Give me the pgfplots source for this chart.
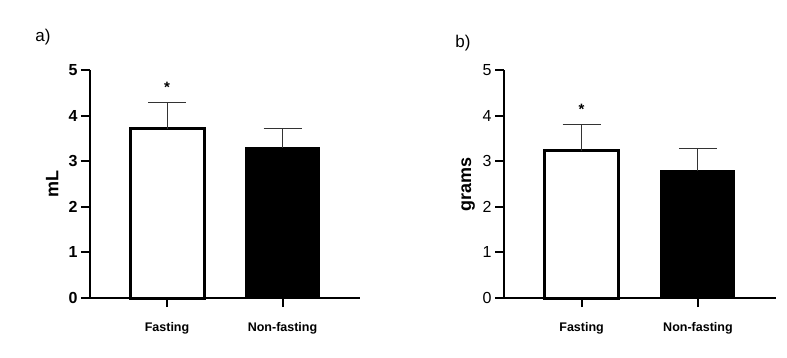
\documentclass[border=0pt]{standalone}
\usepackage{pgfplots}
\pgfplotsset{compat=1.18}
\usepackage{fontspec}
\setmainfont{Liberation Sans}
\begin{document}
\begin{tikzpicture}
\useasboundingbox (0pt,0pt) rectangle (787pt,357pt);
\pgfplotsset{
  myax/.style={
    scale only axis, width=270pt, height=228pt,
    xmin=-0.667, xmax=1.671, ymin=0, ymax=5,
    axis x line=bottom, axis y line=left,
    axis line style={line width=2pt, -},
    xtick={0,1}, xticklabels={Fasting,Non-fasting},
    ytick={0,1,2,3,4,5},
    tick align=outside, major tick length=9pt,
    tick style={line width=2pt, black},
    x tick label style={font=\bfseries\fontsize{12.5}{13}\selectfont, yshift=-12pt},
    /pgf/number format/assume math mode=true,
    ylabel style={font=\bfseries\fontsize{18}{18}\selectfont, anchor=center},
    clip=false,
    anchor=south west,
    ybar, bar shift=0pt, bar width=74pt,
    error bars/y dir=plus, error bars/y explicit,
    error bars/error bar style={line width=1pt, black!80},
    error bars/error mark options={line width=1pt, black!80, mark size=19pt, rotate=90},
  }
}
\begin{axis}[myax, at={(90pt,59pt)},
  y tick label style={font=\bfseries\fontsize{16}{16}\selectfont},
  ylabel={mL}, ylabel style={at={(axis description cs:-0.14,0.5)}}]
\addplot[fill=white, draw=black, line width=3pt] coordinates {(0,3.71) +- (0,0.57)};
\addplot[fill=black, draw=black, line width=1pt] coordinates {(1,3.29) +- (0,0.42)};
\node[font=\bfseries\fontsize{15}{15}\selectfont] at (axis cs:0,4.62) {*};
\end{axis}
\node[font=\fontsize{17}{17}\selectfont] at (43pt,320pt) {a)};
\begin{axis}[myax, at={(504pt,59pt)}, width=272pt,
  y tick label style={font=\fontsize{16}{16}\selectfont},
  ylabel={grams}, ylabel style={at={(axis description cs:-0.132,0.5)}}]
\addplot[fill=white, draw=black, line width=3pt] coordinates {(0,3.23) +- (0,0.57)};
\addplot[fill=black, draw=black, line width=1pt] coordinates {(1,2.79) +- (0,0.49)};
\node[font=\bfseries\fontsize{15}{15}\selectfont] at (axis cs:0,4.13) {*};
\end{axis}
\node[font=\fontsize{17}{17}\selectfont] at (463pt,314pt) {b)};
\end{tikzpicture}
\end{document}
